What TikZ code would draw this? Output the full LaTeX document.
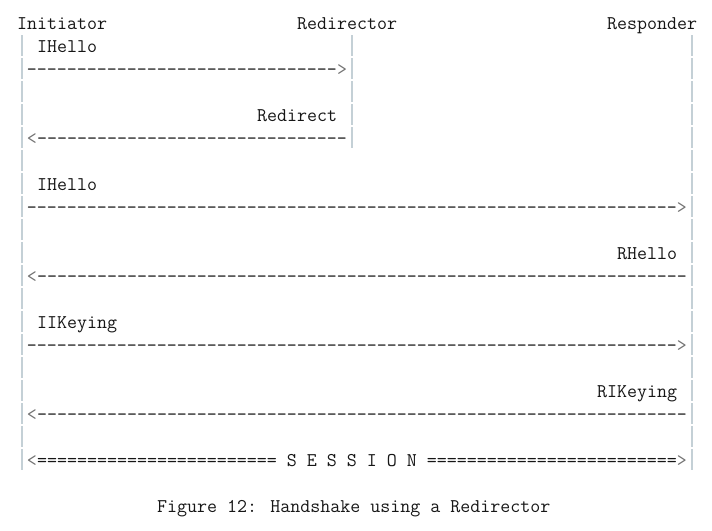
\documentclass[tikz,border=0pt]{standalone}
\usepackage{fontspec}
\definecolor{lifeline}{RGB}{196,208,214}
\definecolor{headc}{RGB}{115,115,115}
\definecolor{ink}{RGB}{22,22,22}
\ExplSyntaxOn
\cs_new:Npn \asciirep #1#2 { \prg_replicate:nn {#1} {#2} }
\ExplSyntaxOff
\newlength\asciicw
\setbox0\hbox{\fontsize{20}{24}\selectfont\ttfamily\global\asciicw=\fontcharwd\font`\-}
\pgfmathsetmacro\asciisize{200/\asciicw}
\newcommand\asciifont{\fontsize{\asciisize pt}{23pt}\selectfont\ttfamily\spaceskip=10pt\relax}
\tikzset{
  txt/.style={anchor=base west, inner sep=0pt, outer sep=0pt, text=ink, font=\asciifont},
  life/.style={draw=lifeline, line width=1.3pt, dash pattern=on 21pt off 2pt},
}
\newcommand\hd[1]{\textcolor{headc}{#1}}
\begin{document}
\begin{tikzpicture}[x=1pt,y=-1pt]
  \useasboundingbox (0,0) rectangle (712,530);
  % titles
  \node[txt] (init)  at (17,29)  {Initiator};
  \node[txt] (redir) at (297,29) {Redirector};
  \node[txt] (resp)  at (607,29) {Responder};
  % lifelines
  \coordinate (iTop) at (22,35);  \coordinate (iBot) at (22,470);
  \coordinate (dTop) at (352,35); \coordinate (dBot) at (352,148);
  \coordinate (rTop) at (692,35); \coordinate (rBot) at (692,470);
  \draw[life] (iTop) -- (iBot);
  \draw[life] (dTop) -- (dBot);
  \draw[life] (rTop) -- (rBot);
  % messages
  \node[txt] (m1)  at (37,52)  {IHello};
  \node[txt] (a1)  at (27,75)  {\asciirep{31}{-}\hd{>}};
  \node[txt] (m2)  at (257,121) {Redirect};
  \node[txt] (a2)  at (27,144) {\hd{<}\asciirep{31}{-}};
  \node[txt] (m3)  at (37,190) {IHello};
  \node[txt] (a3)  at (27,213) {\asciirep{65}{-}\hd{>}};
  \node[txt] (m4)  at (617,259) {RHello};
  \node[txt] (a4)  at (27,282) {\hd{<}\asciirep{65}{-}};
  \node[txt] (m5)  at (37,328) {IIKeying};
  \node[txt] (a5)  at (27,351) {\asciirep{65}{-}\hd{>}};
  \node[txt] (m6)  at (597,397) {RIKeying};
  \node[txt] (a6)  at (27,420) {\hd{<}\asciirep{65}{-}};
  \node[txt] (sess) at (27,466) {\hd{<}\asciirep{24}{=} S E S S I O N \asciirep{25}{=}\hd{>}};
  % caption
  \node[txt] (cap) at (157,512) {Figure 12: Handshake using a Redirector};
\end{tikzpicture}
\end{document}
